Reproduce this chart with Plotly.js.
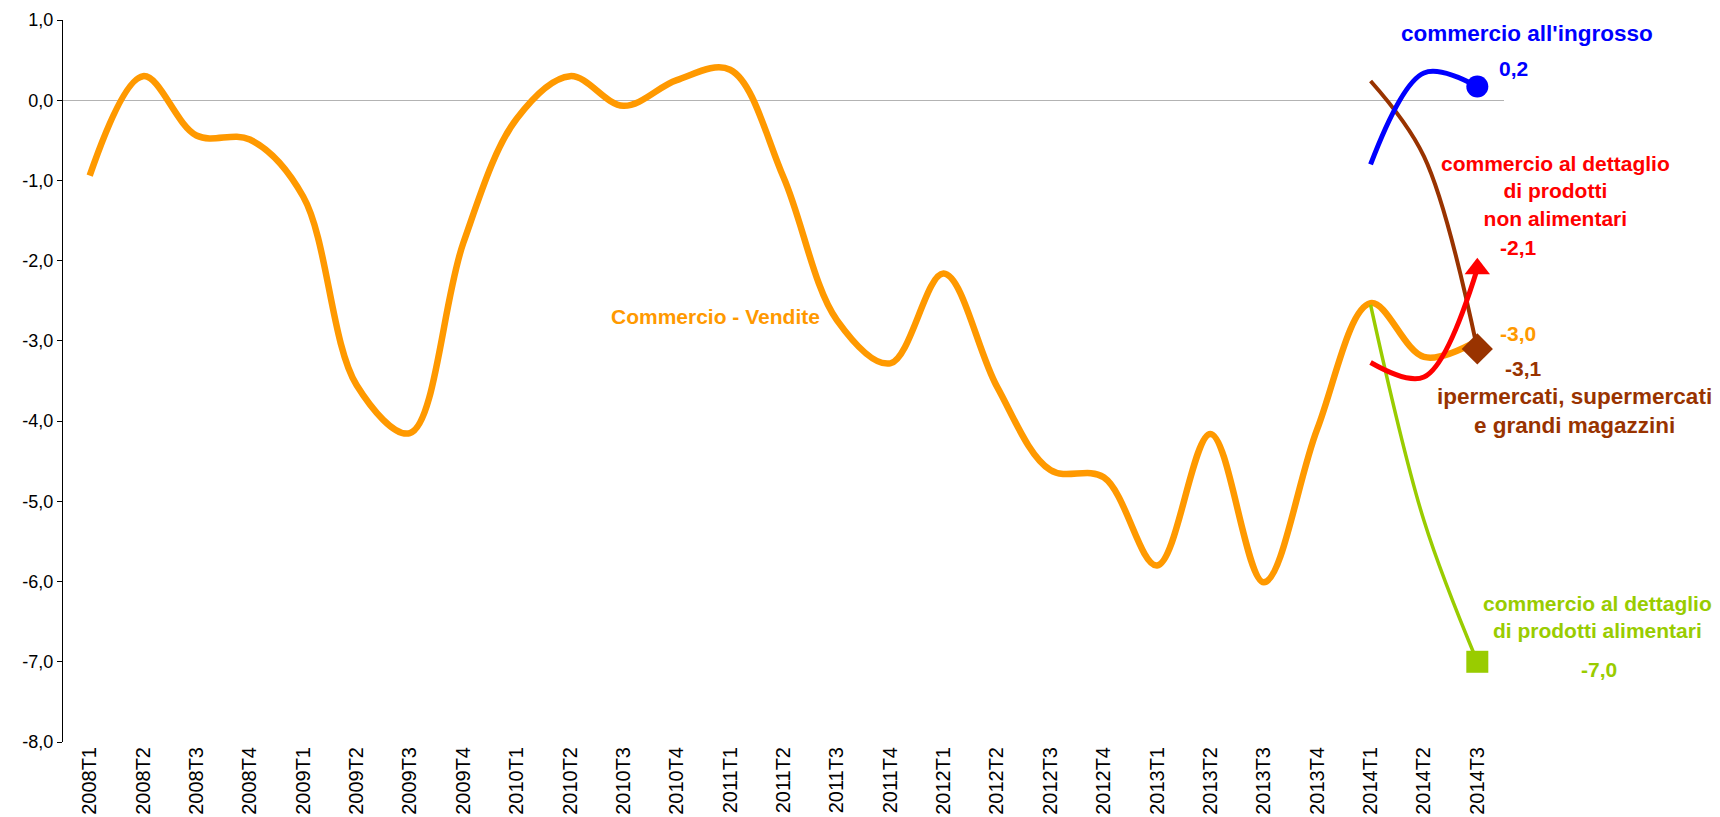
<!DOCTYPE html>
<html>
<head>
<meta charset="utf-8">
<script src="https://cdn.plot.ly/plotly-3.0.1.min.js"></script>
<style>
html,body{margin:0;padding:0;background:#fff;}
#chart{width:1720px;height:817px;}
</style>
</head>
<body>
<div id="chart"></div>
<script>
// ---- DATA ----
const categories = ["2008T1","2008T2","2008T3","2008T4","2009T1","2009T2","2009T3","2009T4",
  "2010T1","2010T2","2010T3","2010T4","2011T1","2011T2","2011T3","2011T4",
  "2012T1","2012T2","2012T3","2012T4","2013T1","2013T2","2013T3","2013T4",
  "2014T1","2014T2","2014T3"];
const venditeTotale = [-0.94, 0.30, -0.44, -0.49, -1.20, -3.55, -4.15, -1.78,
  -0.23, 0.30, -0.07, 0.25, 0.38, -0.96, -2.74, -3.28,
  -2.16, -3.57, -4.61, -4.70, -5.80, -4.16, -6.01, -4.10,
  -2.53, -3.20, -3.0];
const lastCategories = ["2014T1","2014T2","2014T3"];
const ingrosso = [-0.80, 0.34, 0.17];
const nonAlimentari = [-3.27, -3.45, -2.1];
const ipermercati = [0.24, -0.70, -3.1];
const alimentari = [-2.55, -5.24, -7.0];
const yTickValues = [1, 0, -1, -2, -3, -4, -5, -6, -7, -8];

// ---- LAYOUT HELPERS (pixel -> paper) ----
const W = 1720, H = 817;
const M = {l: 63, r: 216, t: 20, b: 75};
const pw = W - M.l - M.r, ph = H - M.t - M.b;
const px = x => (x - M.l) / pw;
const py = y => 1 - (y - M.t) / ph;
const FONT = "Liberation Sans, Arial, sans-serif";
const fmt = v => v.toFixed(1).replace('.', ',');
const last = a => a[a.length - 1];

function endSizes(arr, s) { return arr.map((v, i) => i === arr.length - 1 ? s : 0); }

const traces = [
  {x: categories, y: venditeTotale, mode: 'lines', type: 'scatter',
   line: {color: '#FF9900', width: 6.5, shape: 'spline', smoothing: 1}},
  {x: lastCategories, y: alimentari, mode: 'lines+markers', type: 'scatter', opacity: 1,
   line: {color: '#99CC00', width: 3.5, shape: 'spline', smoothing: 1},
   marker: {symbol: 'square', size: endSizes(alimentari, 22), color: '#99CC00', opacity: 1, line: {width: 0}}},
  {x: lastCategories, y: ipermercati, mode: 'lines+markers', type: 'scatter', opacity: 1,
   line: {color: '#993300', width: 4, shape: 'spline', smoothing: 1},
   marker: {symbol: 'diamond', size: endSizes(ipermercati, 24), color: '#993300', opacity: 1, line: {width: 0}}},
  {x: lastCategories, y: nonAlimentari, mode: 'lines+markers', type: 'scatter', opacity: 1,
   line: {color: '#FF0000', width: 5, shape: 'spline', smoothing: 1},
   marker: {symbol: 'triangle-up', size: endSizes(nonAlimentari, 22), color: '#FF0000', opacity: 1, line: {width: 0}}},
  {x: lastCategories, y: ingrosso, mode: 'lines+markers', type: 'scatter', opacity: 1,
   line: {color: '#0000FF', width: 5, shape: 'spline', smoothing: 1},
   marker: {symbol: 'circle', size: endSizes(ingrosso, 22), color: '#0000FF', opacity: 1, line: {width: 0}}}
];

function ann(text, x, y, color, size) {
  return {text: '<b>' + text + '</b>', xref: 'paper', yref: 'paper', x: px(x), y: py(y),
    xanchor: 'center', yanchor: 'middle', showarrow: false, align: 'center',
    font: {family: FONT, size: size || 21, color: color}};
}

const annotations = [
  ann("commercio all'ingrosso", 1527, 33, '#0000FF', 22.5),
  ann(fmt(last(ingrosso)), 1513, 68, '#0000FF'),
  ann("commercio al dettaglio<br>di prodotti<br>non alimentari", 1556, 191, '#FF0000'),
  ann(fmt(last(nonAlimentari)), 1518, 247, '#FF0000'),
  ann(fmt(last(venditeTotale)), 1518, 333, '#FF9900'),
  ann(fmt(last(ipermercati)), 1523, 369, '#993300'),
  ann("ipermercati, supermercati<br>e grandi magazzini", 1575, 411, '#993300', 22.5),
  ann("commercio al dettaglio<br>di prodotti alimentari", 1597, 617, '#99CC00'),
  ann(fmt(last(alimentari)), 1599, 669, '#99CC00'),
  ann("Commercio - Vendite", 715, 317, '#FF9900')
];

const layout = {
  width: W, height: H,
  margin: M,
  paper_bgcolor: '#fff', plot_bgcolor: '#fff',
  showlegend: false,
  font: {family: FONT, size: 18, color: '#000'},
  xaxis: {type: 'category', range: [-0.5, 26.5], showgrid: false, zeroline: false,
    showline: false, ticks: '', tickangle: -90, tickfont: {family: FONT, size: 20, color: '#000'}},
  yaxis: {range: [-8, 1], tickmode: 'array', tickvals: yTickValues, ticktext: yTickValues.map(fmt),
    showgrid: false,
    zeroline: true, zerolinecolor: '#b3b3b3', zerolinewidth: 1,
    showline: true, linecolor: '#000', linewidth: 1,
    ticks: 'outside', ticklen: 5, tickcolor: '#000', tickwidth: 1,
    tickfont: {family: FONT, size: 18, color: '#000'}},
  annotations: annotations
};

Plotly.newPlot('chart', traces, layout, {staticPlot: true, displayModeBar: false});
</script>
</body>
</html>
